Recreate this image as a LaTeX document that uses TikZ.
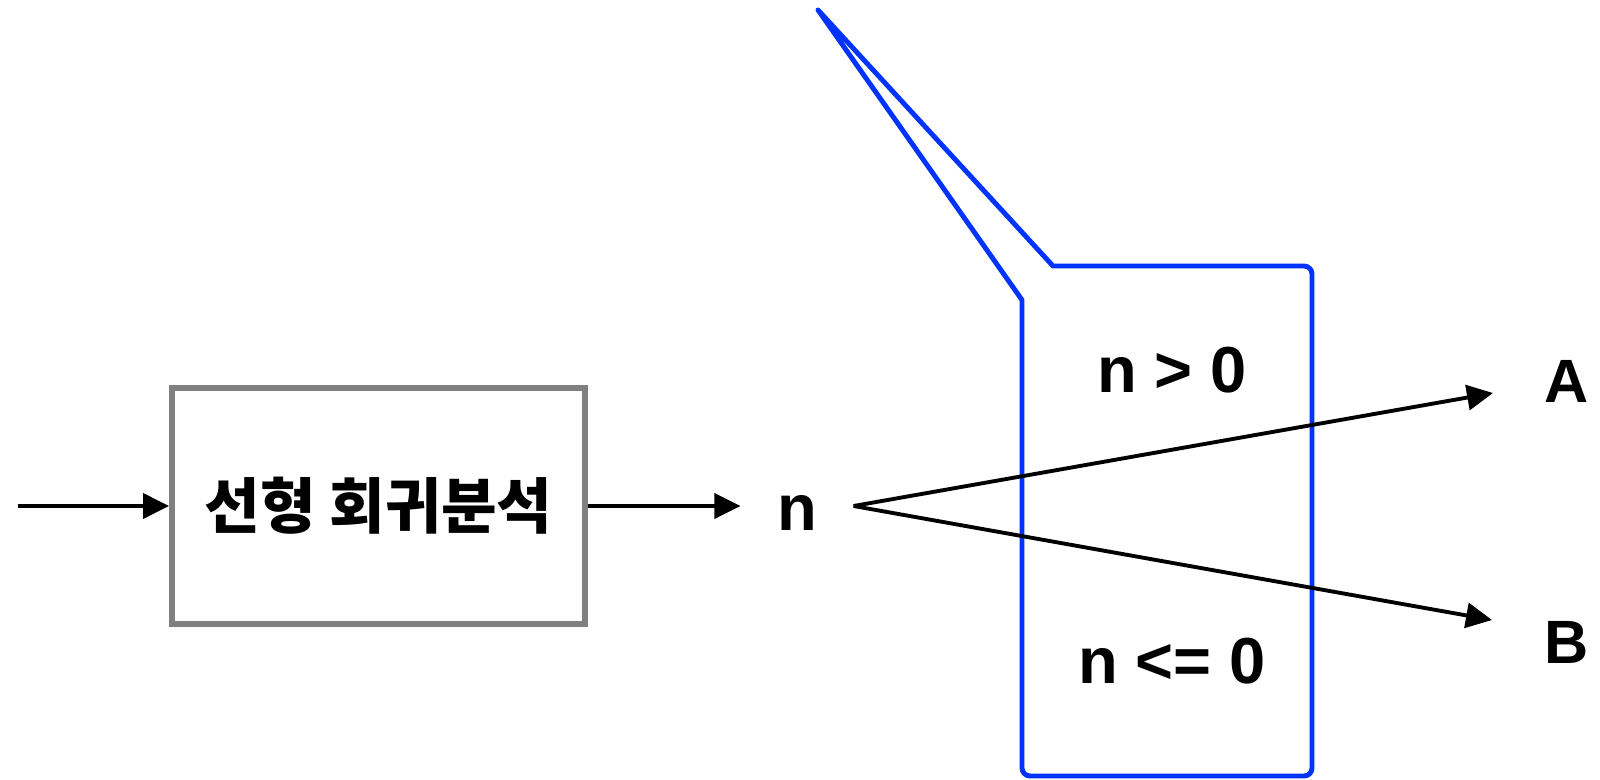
\documentclass[tikz,border=0pt]{standalone}
\usepackage{fontspec}
\setmainfont{Liberation Sans}
\newfontfamily\kor{Noto Sans CJK KR}
\usetikzlibrary{arrows.meta}
\definecolor{azul}{HTML}{0033FF}
\definecolor{gris}{HTML}{808080}

\begin{document}
\begin{tikzpicture}[
    x=1cm,
    y=1cm,
    >={Triangle[length=2.6mm,width=2.5mm]},
    flecha/.style={line width=1.1pt,->},
    caja/.style={draw=gris,line width=1.7pt,minimum width=4.13cm,minimum height=2.36cm,
        inner sep=0pt,font=\kor\bfseries\fontsize{17.2}{20}\selectfont},
    valor/.style={font=\bfseries\fontsize{18.5}{22}\selectfont,inner ysep=0pt,
        text height=0.48cm,text depth=0pt},
    salida/.style={font=\bfseries\fontsize{17.4}{21}\selectfont,inner sep=0pt,
        text height=0.44cm,text depth=0pt},
    nota/.style={azul,line width=1.4pt,line join=round}
]
    \useasboundingbox (0,0) rectangle (16,7.79);

    % Nota con las condiciones
    \draw[nota] (8.18,7.69) -- (10.53,5.13)
        [rounded corners=0.8mm] -- (13.12,5.13) -- (13.12,0.03) -- (10.22,0.03)
        [sharp corners] -- (10.22,4.79) -- cycle;
    \node[valor] (mayor) at (11.72,4.11) {n > 0};
    \node[valor] (menor) at (11.72,1.20) {n <= 0};

    % Bloque de regresion
    \coordinate (entrada) at (0.18,2.73);
    \node[caja] (modelo) at (3.785,2.73) {선형 회귀분석};
    \node[valor,inner xsep=3.6mm] (n) at (7.97,2.73) {n};
    \draw[flecha] (entrada) -- (modelo.west);
    \draw[flecha] (modelo.east) -- (n.west);

    % Ramas de salida
    \coordinate (finA) at (14.93,3.86);
    \coordinate (finB) at (14.92,1.59);
    \node[salida] (A) at (15.67,3.99) {A};
    \node[salida] (B) at (15.67,1.38) {B};
    \draw[flecha] (n.east) -- (finA);
    \draw[flecha] (n.east) -- (finB);
\end{tikzpicture}
\end{document}
